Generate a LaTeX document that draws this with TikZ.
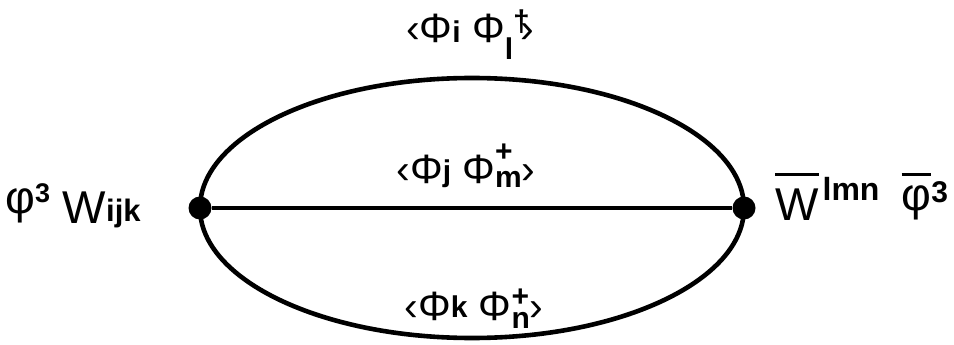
\documentclass[tikz,border=0pt]{standalone}
\usepackage{fontspec}
\setmainfont{Liberation Sans}
\usetikzlibrary{positioning}
\newcommand{\idx}[1]{{\fontsize{30pt}{30pt}\selectfont\bfseries #1}}
\newcommand{\supsub}[4]{\rlap{\raisebox{#3}{\idx{#1}}}\raisebox{#4}{\idx{#2}}}
\newcommand{\ovl}[2]{\setbox0\hbox{#1}\rlap{\raisebox{#2}{\rule{\wd0}{2.8pt}}}\box0}

\begin{document}
\begin{tikzpicture}[x=1pt, y=-1pt,
    prop/.style={line width=4.6pt},
    vertex/.style={circle, fill=black, inner sep=0pt, minimum size=23pt},
    pair/.style={inner sep=0pt, anchor=base, font=\fontsize{41pt}{41pt}\selectfont},
    field/.style={inner sep=0pt, anchor=base west, font=\fontsize{46pt}{46pt}\selectfont}]
  \useasboundingbox (0,0) rectangle (954,345);
  \coordinate (centre) at (472,208);
  \node[vertex] (v1) at (200,208) {};
  \node[vertex] (v2) at (744,208) {};
  \draw[prop] (centre) ellipse [x radius=272pt, y radius=130pt];
  \draw[prop] (v1) -- (v2);
  % propagator labels
  \node[pair] (top) at (470,43) {‹Φ\idx{i} Φ\raisebox{-17pt}{\idx{l}}\rlap{\raisebox{11pt}{\idx{†}}}\kern7pt›};
  \node[pair] (mid) at (466,183) {‹Φ\raisebox{2pt}{\idx{j}} Φ\supsub{+}{m}{22pt}{-4pt}›};
  \node[pair] (bot) at (474,320) {‹Φ\raisebox{3pt}{\idx{k}} Φ\supsub{+}{n}{14pt}{-8pt}›};
  % vertex labels
  \node[field] (lhs) at (5,223) {\raisebox{10pt}{φ}\raisebox{21pt}{\fontsize{27pt}{27pt}\selectfont\bfseries 3} W\raisebox{2pt}{\fontsize{31pt}{31pt}\selectfont\bfseries ijk}};
  \node[field] (rhs) at (775,220) {\ovl{W}{44pt}\kern4pt\raisebox{20pt}{\fontsize{32pt}{32pt}\selectfont\bfseries lmn}\hspace{22pt}\ovl{\raisebox{10pt}{φ}}{44pt}\raisebox{18pt}{\fontsize{30pt}{30pt}\selectfont\bfseries 3}};
\end{tikzpicture}
\end{document}
